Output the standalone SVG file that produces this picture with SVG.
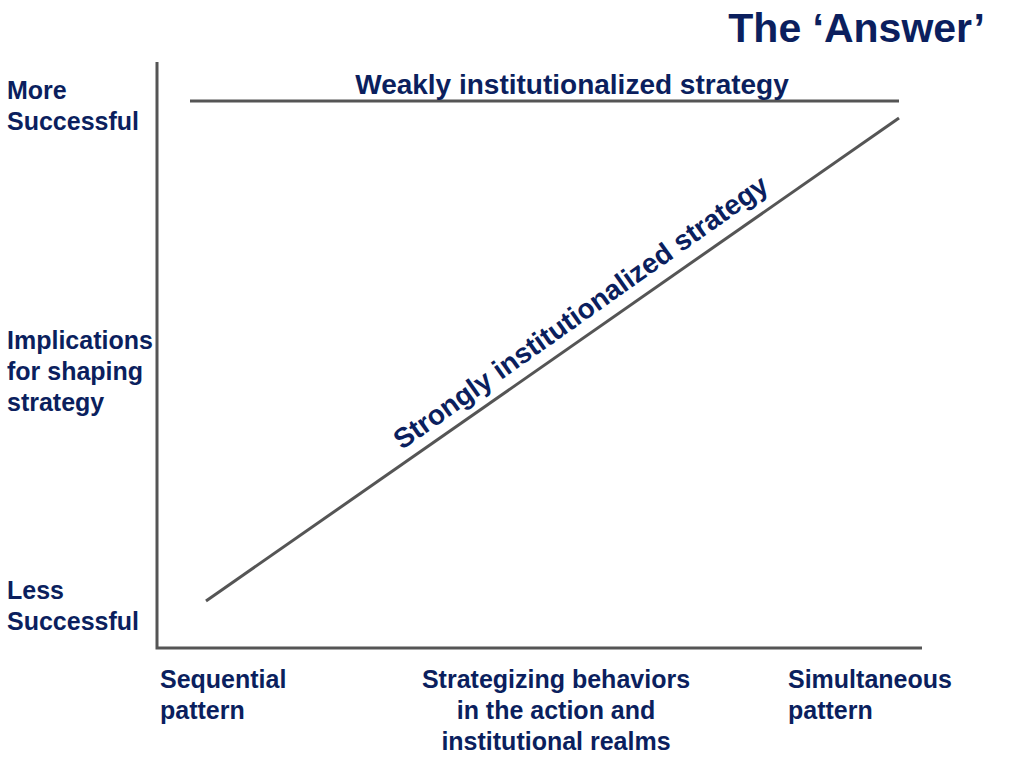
<svg xmlns="http://www.w3.org/2000/svg" width="1024" height="768" viewBox="0 0 1024 768">
<style>
.t{font-family:"Liberation Sans",Arial,sans-serif;font-weight:bold;fill:#0b1f5e}
.lab{font-size:25px}
.ln{stroke:#555;stroke-width:3;fill:none}
</style>
<rect width="1024" height="768" fill="#fff"/>
<text id="title" class="t" x="985" y="42" font-size="41" text-anchor="end">The ‘Answer’</text>
<g id="connectors">
<polyline class="ln" points="157,62 157,648 922,648"/>
<line class="ln" x1="190" y1="101" x2="899" y2="101"/>
<line class="ln" x1="206" y1="601" x2="899" y2="118"/>
</g>
<g id="weak"><text class="t" x="572" y="94" font-size="28" text-anchor="middle">Weakly institutionalized strategy</text></g>
<g id="strong"><text class="t" transform="translate(586,320) rotate(-35.3)" font-size="28" text-anchor="middle">Strongly institutionalized strategy</text></g>
<g id="more"><text class="t lab" x="7" y="99">More</text><text class="t lab" x="7" y="130">Successful</text></g>
<g id="impl"><text class="t lab" x="7" y="349">Implications</text><text class="t lab" x="7" y="380">for shaping</text><text class="t lab" x="7" y="411">strategy</text></g>
<g id="less"><text class="t lab" x="7" y="599">Less</text><text class="t lab" x="7" y="630">Successful</text></g>
<g id="seq"><text class="t lab" x="160" y="688">Sequential</text><text class="t lab" x="160" y="719">pattern</text></g>
<g id="mid" text-anchor="middle"><text class="t lab" x="556" y="688">Strategizing behaviors</text><text class="t lab" x="556" y="719">in the action and</text><text class="t lab" x="556" y="750">institutional realms</text></g>
<g id="sim"><text class="t lab" x="788" y="688">Simultaneous</text><text class="t lab" x="788" y="719">pattern</text></g>
</svg>
